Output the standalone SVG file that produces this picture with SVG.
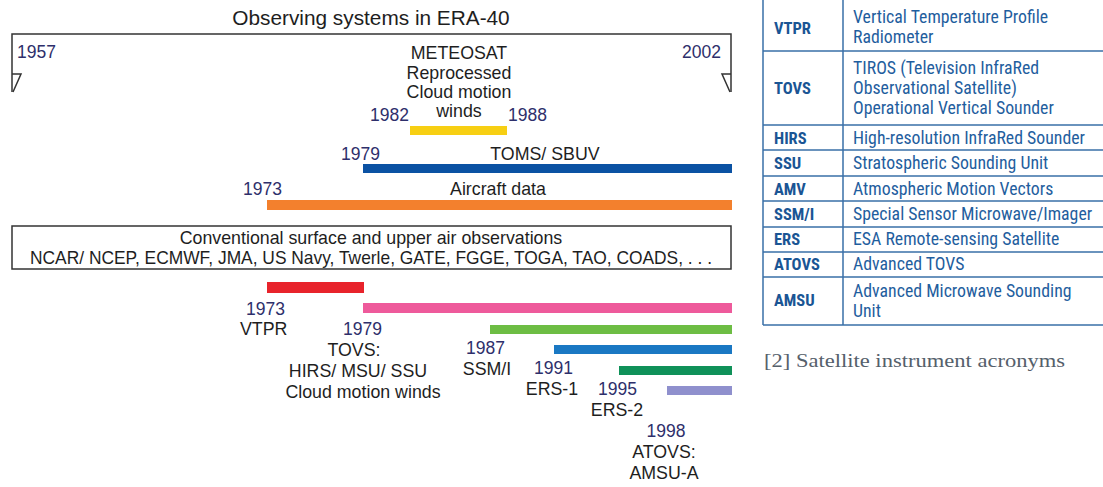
<svg xmlns="http://www.w3.org/2000/svg" width="1103" height="487" viewBox="0 0 1103 487">
<style>
  .lbl { font-family: "Liberation Sans", Arial, sans-serif; font-size: 17.8px; fill: #1e1e1e; }
  .yr { font-family: "Liberation Sans", Arial, sans-serif; font-size: 17.5px; fill: #2e2f6b; }
  .mid { text-anchor: middle; }
  .title { font-size: 20.8px; }
  .frame { fill: none; stroke: #333; stroke-width: 1.5; }
  .tb { font-family: "Roboto Condensed", "Liberation Sans Narrow", "Liberation Sans", Arial, sans-serif; font-size: 17.8px; fill: #1f5e9e; }
  .tbb { font-family: "Roboto Condensed", "Liberation Sans Narrow", "Liberation Sans", Arial, sans-serif; font-size: 16.5px; font-weight: bold; fill: #1a5594; }
  .tl { stroke: #3a70a8; stroke-width: 1.5; fill: none; }
  .cap { font-family: "Liberation Serif", "Times New Roman", serif; font-size: 19px; fill: #55606b; }
</style>
<rect width="1103" height="487" fill="#ffffff"/>

<g id="timeline-frame">
  <text class="lbl mid title" x="371" y="25">Observing systems in ERA-40</text>
  <path class="frame" d="M12 92 V34 H731 V92"/>
  <path class="frame" d="M12 74 H21 L13 92"/>
  <path class="frame" d="M731 74 H722 L730 92"/>
  <text class="yr" x="17" y="58">1957</text>
  <text class="yr" x="682" y="58">2002</text>
</g>

<g id="meteosat">
  <text class="lbl mid" x="459" y="59">METEOSAT</text>
  <text class="lbl mid" x="459" y="79">Reprocessed</text>
  <text class="lbl mid" x="459" y="98">Cloud motion</text>
  <text class="lbl mid" x="459" y="117">winds</text>
  <text class="yr" x="370" y="121">1982</text>
  <text class="yr" x="508" y="121">1988</text>
  <rect x="410" y="126" width="97" height="9" fill="#f7cf13"/>
</g>

<g id="toms-sbuv">
  <text class="yr" x="341" y="160">1979</text>
  <text class="lbl mid" x="545" y="160">TOMS/ SBUV</text>
  <rect x="363" y="164" width="369" height="9" fill="#0b52a3"/>
</g>

<g id="aircraft">
  <text class="yr" x="243" y="195">1973</text>
  <text class="lbl mid" x="498" y="195">Aircraft data</text>
  <rect x="267" y="200" width="465" height="10" fill="#f3802d"/>
</g>

<g id="conventional">
  <rect class="frame" x="12" y="226" width="719" height="43"/>
  <text class="lbl mid" x="371" y="244">Conventional surface and upper air observations</text>
  <text class="lbl mid" x="371" y="264" textLength="682" lengthAdjust="spacingAndGlyphs">NCAR/ NCEP, ECMWF, JMA, US Navy, Twerle, GATE, FGGE, TOGA, TAO, COADS, . . .</text>
</g>

<g id="vtpr">
  <rect x="267" y="282" width="97" height="11" fill="#e8232b"/>
  <text class="yr" x="246" y="315">1973</text>
  <text class="lbl" x="240" y="335">VTPR</text>
</g>

<g id="tovs">
  <rect x="363" y="303" width="369" height="10" fill="#ee5a9b"/>
  <text class="yr" x="343" y="335">1979</text>
  <text class="lbl mid" x="354" y="356">TOVS:</text>
  <text class="lbl mid" x="358" y="377">HIRS/ MSU/ SSU</text>
  <text class="lbl mid" x="363" y="398">Cloud motion winds</text>
</g>

<g id="ssmi">
  <rect x="490" y="325" width="242" height="9" fill="#6dbd44"/>
  <text class="yr" x="466" y="354">1987</text>
  <text class="lbl mid" x="487" y="375">SSM/I</text>
</g>

<g id="ers1">
  <rect x="554" y="345" width="178" height="9" fill="#1a78c3"/>
  <text class="yr" x="534" y="374">1991</text>
  <text class="lbl mid" x="552" y="395">ERS-1</text>
</g>

<g id="ers2">
  <rect x="619" y="366" width="113" height="9" fill="#0f9159"/>
  <text class="yr" x="598" y="395">1995</text>
  <text class="lbl mid" x="617" y="416">ERS-2</text>
</g>

<g id="atovs">
  <rect x="667" y="386" width="65" height="9" fill="#8f90cd"/>
  <text class="yr mid" x="666" y="437">1998</text>
  <text class="lbl mid" x="664" y="458">ATOVS:</text>
  <text class="lbl mid" x="664" y="479">AMSU-A</text>
</g>

<g id="acronym-table">
  <path class="tl" d="M763 0 V325 M843 0 V325 M763 51 H1103 M763 125 H1103 M763 150 H1103 M763 176 H1103 M763 201 H1103 M763 227 H1103 M763 252 H1103 M763 277 H1103 M763 325 H1103"/>
  <text class="tbb" x="774" y="34">VTPR</text>
  <text class="tb" x="853" y="23">Vertical Temperature Profile</text>
  <text class="tb" x="853" y="43">Radiometer</text>
  <text class="tbb" x="774" y="94">TOVS</text>
  <text class="tb" x="853" y="74">TIROS (Television InfraRed</text>
  <text class="tb" x="853" y="94">Observational Satellite)</text>
  <text class="tb" x="853" y="114">Operational Vertical Sounder</text>
  <text class="tbb" x="774" y="144">HIRS</text>
  <text class="tb" x="853" y="144">High-resolution InfraRed Sounder</text>
  <text class="tbb" x="774" y="169">SSU</text>
  <text class="tb" x="853" y="169">Stratospheric Sounding Unit</text>
  <text class="tbb" x="774" y="195">AMV</text>
  <text class="tb" x="853" y="195">Atmospheric Motion Vectors</text>
  <text class="tbb" x="774" y="220">SSM/I</text>
  <text class="tb" x="853" y="220">Special Sensor Microwave/Imager</text>
  <text class="tbb" x="774" y="245">ERS</text>
  <text class="tb" x="853" y="245">ESA Remote-sensing Satellite</text>
  <text class="tbb" x="774" y="270">ATOVS</text>
  <text class="tb" x="853" y="270">Advanced TOVS</text>
  <text class="tbb" x="774" y="306">AMSU</text>
  <text class="tb" x="853" y="297">Advanced Microwave Sounding</text>
  <text class="tb" x="853" y="317">Unit</text>
  <text class="cap" x="764" y="367" textLength="301" lengthAdjust="spacingAndGlyphs">[2] Satellite instrument acronyms</text>
</g>
</svg>
